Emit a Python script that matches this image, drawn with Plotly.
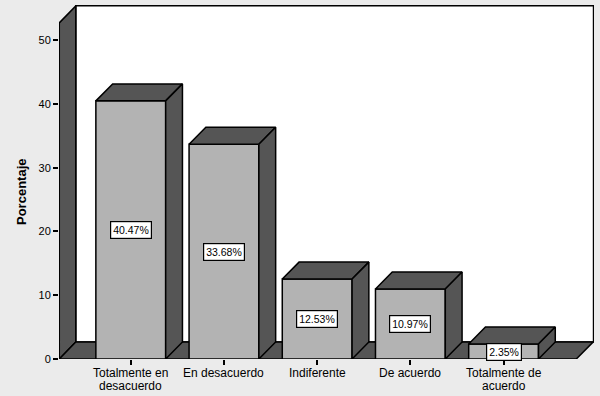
import plotly.graph_objects as go

categories = ["Totalmente en<br>desacuerdo", "En desacuerdo", "Indiferente", "De acuerdo", "Totalmente de<br>acuerdo"]
values = [40.47, 33.68, 12.53, 10.97, 2.35]
y_ticks = [0, 10, 20, 30, 40, 50]

# geometry (data units)
BAR_W = 0.749
DX = 0.18
DY = 2.66
X0 = -0.77
X_END = 4.97
Y_FRONT_TOP = 52.7
Y_RANGE_TOP = 55.5
FLOOR_RIGHT = 4.78

FRONT = "#b3b3b3"
DARK = "#555555"
BG = "#ebebeb"
FONT = "Liberation Sans, Arial"
LW = 1.5

fig = go.Figure()

xs = list(range(len(values)))

# front faces
fig.add_trace(go.Bar(x=xs, y=values, width=BAR_W, marker=dict(color=FRONT, line=dict(color="black", width=LW)),
                     hoverinfo="skip", showlegend=False))

# top and side faces
for x, v in zip(xs, values):
    l, r = x - BAR_W / 2, x + BAR_W / 2
    fig.add_trace(go.Scatter(x=[l, l + DX, r + DX, r, l], y=[v, v + DY, v + DY, v, v], mode="lines", fill="toself",
                             fillcolor=DARK, line=dict(color="black", width=LW), hoverinfo="skip", showlegend=False))
    fig.add_trace(go.Scatter(x=[r, r + DX, r + DX, r, r], y=[v, v + DY, DY, 0, v], mode="lines", fill="toself",
                             fillcolor=DARK, line=dict(color="black", width=LW), hoverinfo="skip", showlegend=False))

shapes = []
# back wall
shapes.append(dict(type="rect", xref="x", yref="y", x0=X0 + DX, x1=X_END - 0.005, y0=DY, y1=Y_RANGE_TOP - 0.1,
                   fillcolor="white", line=dict(color="black", width=LW), layer="below"))
# left wall
shapes.append(dict(type="path", xref="x", yref="y", layer="below",
                   path=f"M {X0+0.003},0 L {X0+0.003},{Y_FRONT_TOP} L {X0+DX},{Y_FRONT_TOP+DY} L {X0+DX},{DY} Z",
                   fillcolor=DARK, line=dict(color="black", width=LW)))
# floor
shapes.append(dict(type="path", xref="x", yref="y", layer="below",
                   path=f"M {X0+0.003},0 L {FLOOR_RIGHT},0 L {FLOOR_RIGHT+DX},{DY} L {X0+DX},{DY} Z",
                   fillcolor=DARK, line=dict(color="black", width=LW)))

annotations = []
for x, v in zip(xs, values):
    annotations.append(dict(x=x, y=v / 2, xref="x", yref="y", text=f"{v:.2f}%", showarrow=False,
                            font=dict(family=FONT, size=10.5, color="black"),
                            bgcolor="white", bordercolor="black", borderwidth=1.2, borderpad=2))
# category labels (two-line labels set tightly)
for x, lab in zip(xs, categories):
    for i, line in enumerate(lab.split("<br>")):
        annotations.append(dict(x=x, y=0, xref="x", yref="paper", text=line, showarrow=False,
                                yanchor="top", yshift=-5 - 12.5 * i,
                                font=dict(family=FONT, size=12, color="black")))
annotations.append(dict(x=-0.069, y=0.472, xref="paper", yref="paper", text="<b>Porcentaje</b>", textangle=-90,
                        xanchor="center", yanchor="middle",
                        showarrow=False, font=dict(family=FONT, size=13, color="black")))

fig.update_layout(
    width=600, height=396,
    margin=dict(l=59, r=6, t=5, b=37),
    paper_bgcolor=BG, plot_bgcolor=BG,
    shapes=shapes, annotations=annotations,
    showlegend=False,
    xaxis=dict(range=[X0, X_END], tickvals=xs, ticktext=[""] * len(xs), ticks="outside", ticklen=5, tickcolor="black",
               tickwidth=1.5, showgrid=False, zeroline=False, showline=False, automargin=False),
    yaxis=dict(range=[0, Y_RANGE_TOP], tickvals=y_ticks, ticks="outside", ticklen=5, tickcolor="black",
               tickwidth=1.5, showgrid=False, zeroline=False, showline=False, automargin=False,
               tickfont=dict(family=FONT, size=11, color="black")),
)

fig.write_html("out.html", config={"displayModeBar": False},
               post_script="document.body.style.margin='0';document.body.style.background='%s';" % BG)
